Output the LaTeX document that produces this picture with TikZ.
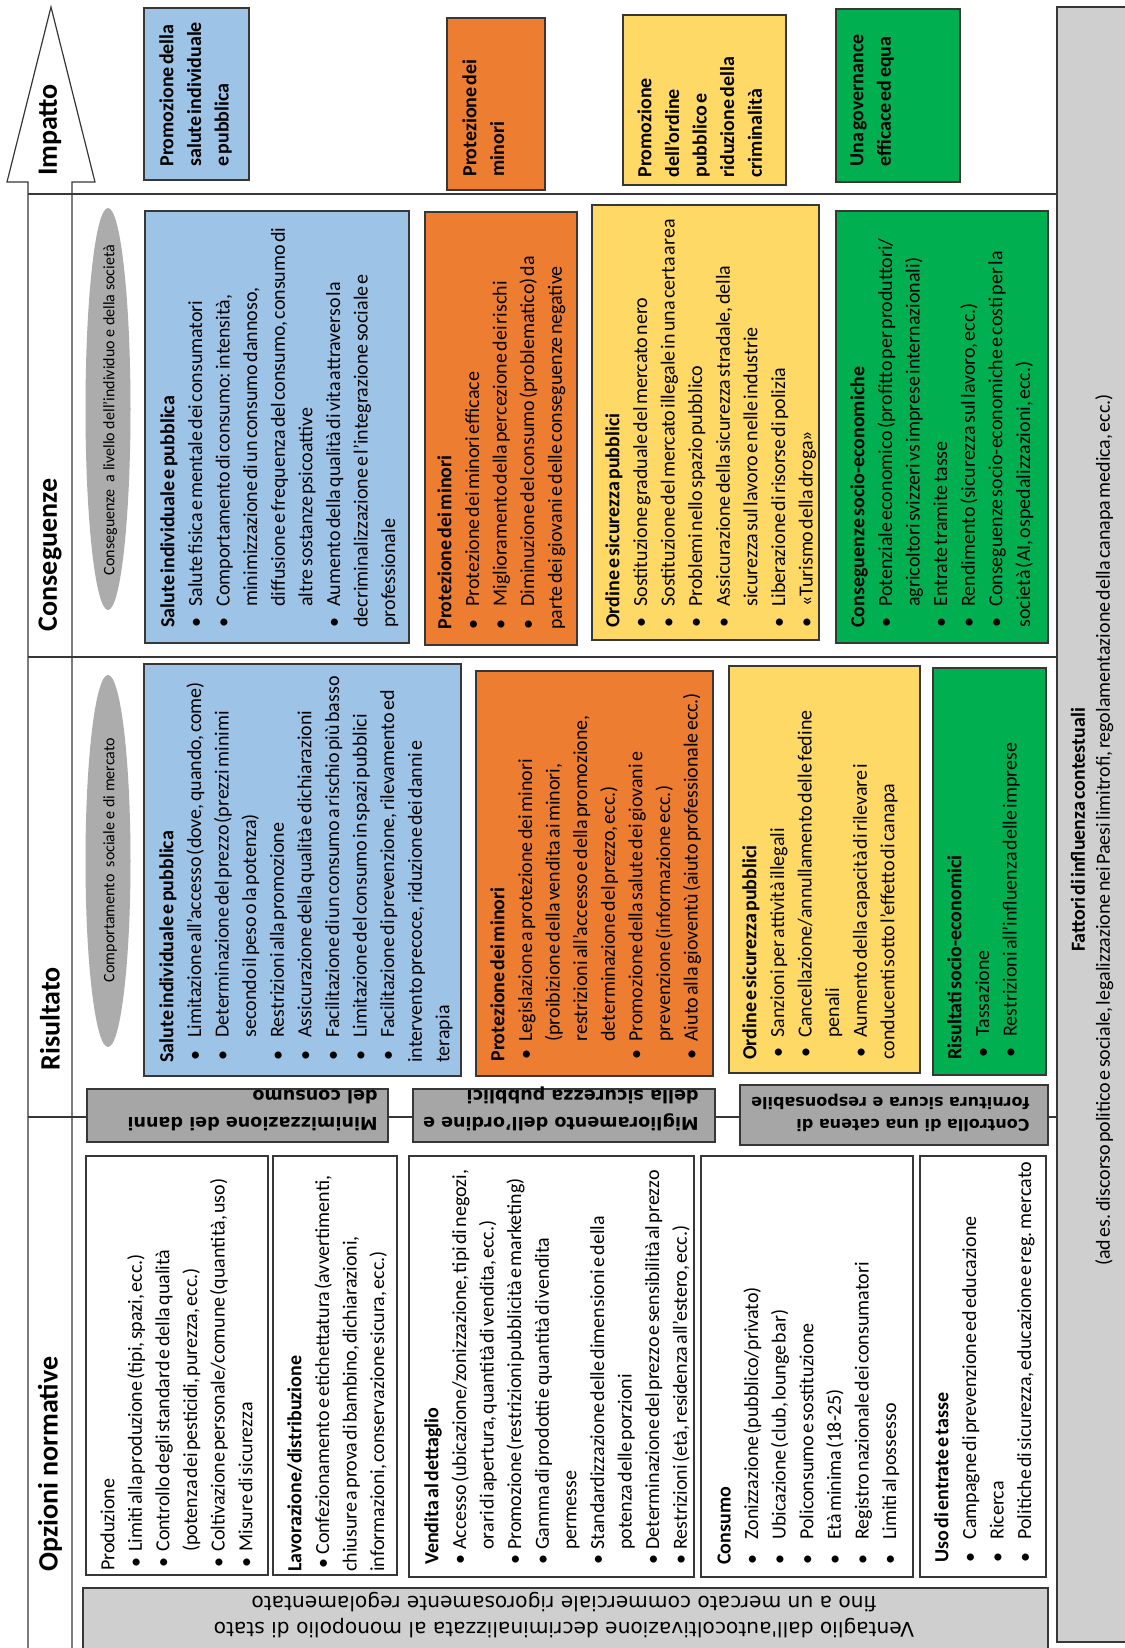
\documentclass[tikz,border=0pt]{standalone}
\usepackage{fontspec}
\setmainfont{Carlito}
\newfontfamily\dvs{DejaVu Sans}
\usetikzlibrary{shapes.geometric}
\definecolor{bluef}{RGB}{157,195,230}
\definecolor{orangef}{RGB}{237,125,49}
\definecolor{yellowf}{RGB}{255,217,102}
\definecolor{greenf}{RGB}{0,176,80}
\definecolor{dgrey}{RGB}{166,166,166}
\definecolor{lgrey}{RGB}{208,207,207}
\definecolor{ellg}{RGB}{172,172,172}
\definecolor{lc}{RGB}{55,55,55}
\newlength\bind \newlength\tind
\newcommand\tight{\spaceskip=1.15pt plus 0.3pt minus 0.1pt\xspaceskip=1.5pt}
\newcommand\setind[2]{\tight\setlength\bind{#1}\setlength\tind{#2}}
\newcommand\hd[1]{\noindent\textbf{#1}}
\newcommand\bi[1]{\par\hangindent=\tind\hangafter=1\noindent\hbox to\tind{\hspace*{\bind}\textbullet\hfil}#1}
\begin{document}
\begin{tikzpicture}[x=0.5pt,y=-0.5pt,
  frame/.style={draw=lc, line width=0.8pt},
  sep/.style={draw=lc, line width=0.6pt},
  txt/.style={rotate=90, anchor=north west, inner sep=0pt, align=left, text width=260pt, font=\fontsize{10}{13.8}\selectfont},
  btxt/.style={txt, font=\bfseries\fontsize{10}{13.8}\selectfont},
  hdr/.style={rotate=90, inner sep=0pt, font=\bfseries\fontsize{14}{16}\selectfont},
  gtxt/.style={rotate=180, anchor=north west, inner sep=0pt, align=left, font=\dvs\bfseries\fontsize{8.8}{13.3}\selectfont},
  etxt/.style={rotate=90, inner sep=0pt, font=\fontsize{8}{10}\selectfont},
  ell/.style={ellipse, fill=ellg, inner sep=0pt, minimum width=22.5pt}
]
\useasboundingbox (0,0) rectangle (1124,1648);
\fill[white] (0,0) rectangle (1124,1648);
% arrow band
\coordinate (a1) at (28,1660); \coordinate (a2) at (28,182); \coordinate (a3) at (7,182);
\coordinate (a4) at (51,7); \coordinate (a5) at (95,182); \coordinate (a6) at (72,182); \coordinate (a7) at (72,1660);
\draw[sep, fill=white] (a1) -- (a2) -- (a3) -- (a4) -- (a5) -- (a6) -- (a7);
% separators
\coordinate (s1a) at (28,194); \coordinate (s1b) at (1057,194);
\coordinate (s2a) at (28,657); \coordinate (s2b) at (1057,657);
\coordinate (s3a) at (28,1117); \coordinate (s3b) at (1057,1117);
\draw[sep] (s1a) -- (s1b);
\draw[sep] (s2a) -- (s2b);
\draw[sep] (s3a) -- (s3b);
% right grey column
\path[frame, fill=lgrey] (1057,7) rectangle (1130,1642);
\node[rotate=90, align=center, inner sep=0pt, font=\fontsize{10}{12.5}\selectfont] (fx) at (1092,830)
 {\tight\textbf{Fattori di influenza contestuali}\\\tight(ad es. discorso politico e sociale, legalizzazione nei Paesi limitrofi, regolamentazione della canapa medica, ecc.)};
% bottom grey box
\path[frame, fill=lgrey] (83,1588) rectangle (1048,1652);
\node[rotate=180, align=center, inner sep=0pt, font=\dvs\fontsize{10.1}{13}\selectfont] (vt) at (564,1615)
 {Ventaglio dall'autocoltivazione decriminalizzata al monopolio di stato\\fino a un mercato commerciale rigorosamente regolamentato};
% headers
\node[hdr] (h1) at (50,130) {Impatto};
\node[hdr] (h2) at (50,555) {Conseguenze};
\node[hdr] (h3) at (50,1019) {Risultato};
\node[hdr] (h4) at (50,1464) {Opzioni normative};
% ellipses
\node[ell, minimum height=201pt] (e1) at (108,409) {};
\node[etxt] (e1t) at (110,410) {Conseguenze ~a livello dell’individuo e della società};
\node[ell, minimum height=186pt] (e2) at (108,861) {};
\node[etxt] (e2t) at (110,860) {Comportamento ~sociale e di mercato};
% ---- Impatto row
\path[frame, fill=bluef] (144,8) rectangle (249,180);
\node[btxt] (i1) at (159,167) {\tight Promozione della\\salute individuale\\e pubblica};
\path[frame, fill=orangef] (447,18) rectangle (545,190);
\node[btxt] (i2) at (462,177) {\tight Protezione dei\\minori};
\path[frame, fill=yellowf] (623,15) rectangle (786,185);
\node[btxt] (i3) at (637,178) {\tight Promozione\\dell’ordine\\pubblico e\\riduzione della\\criminalità};
\path[frame, fill=greenf] (836,9) rectangle (960,182);
\node[btxt] (i4) at (850,167) {\tight Una governance\\efficace ed equa};
% ---- Conseguenze row
\path[frame, fill=bluef] (145,211) rectangle (409,643);
\node[txt] (c1) at (160,628) {\setind{0pt}{10.5pt}\hd{Salute individuale e pubblica}
\bi{Salute fisica e mentale dei consumatori}
\bi{Comportamento di consumo: intensità,\newline minimizzazione di un consumo dannoso,\newline diffusione e frequenza del consumo, consumo di\newline altre sostanze psicoattive}
\bi{Aumento della qualità di vita attraverso la\newline decriminalizzazione e l’integrazione sociale e\newline professionale}};
\path[frame, fill=orangef] (425,212) rectangle (577,645);
\node[txt] (c2) at (437,630) {\setind{0pt}{11.5pt}\hd{Protezione dei minori}
\bi{Protezione dei minori efficace}
\bi{Miglioramento della percezione dei rischi}
\bi{Diminuzione del consumo (problematico) da\newline parte dei giovani e delle conseguenze negative}};
\path[frame, fill=yellowf] (592,205) rectangle (819,640);
\node[txt] (c3) at (605,628) {\setind{0pt}{10.5pt}\hd{Ordine e sicurezza pubblici}
\bi{Sostituzione graduale del mercato nero}
\bi{Sostituzione del mercato illegale in una certa area}
\bi{Problemi nello spazio pubblico}
\bi{Assicurazione della sicurezza stradale, della\newline sicurezza sul lavoro e nelle industrie}
\bi{Liberazione di risorse di polizia}
\bi{«Turismo della droga»}};
\path[frame, fill=greenf] (836,211) rectangle (1048,643);
\node[txt] (c4) at (850,628) {\setind{0pt}{10.5pt}\hd{Conseguenze socio-economiche}
\bi{Potenziale economico (profitto per produttori/\newline agricoltori svizzeri vs imprese internazionali)}
\bi{Entrate tramite tasse}
\bi{Rendimento (sicurezza sul lavoro, ecc.)}
\bi{Conseguenze socio-economiche e costi per la\newline società (AI, ospedalizzazioni, ecc.)}};
% ---- Risultato row
\path[frame, fill=bluef] (144,664) rectangle (461,1076);
\node[txt] (r1) at (159,1063) {\setind{1pt}{12.5pt}\hd{Salute individuale e pubblica}
\bi{Limitazione all’accesso (dove, quando, come)}
\bi{Determinazione del prezzo (prezzi minimi\newline secondo il peso o la potenza)}
\bi{Restrizioni alla promozione}
\bi{Assicurazione della qualità e dichiarazioni}
\bi{Facilitazione di un consumo a rischio più basso}
\bi{Limitazione del consumo in spazi pubblici}
\bi{Facilitazione di prevenzione, rilevamento ed\newline intervento precoce, riduzione dei danni e\newline terapia}};
\path[frame, fill=orangef] (476,671) rectangle (713,1076);
\node[txt] (r2) at (490,1062) {\setind{1pt}{10pt}\hd{Protezione dei minori}
\bi{Legislazione a protezione dei minori\newline (proibizione della vendita ai minori,\newline restrizioni all’accesso e della promozione,\newline determinazione del prezzo, ecc.)}
\bi{Promozione della salute dei giovani e\newline prevenzione (informazione ecc.)}
\bi{Aiuto alla gioventù (aiuto professionale ecc.)}};
\path[frame, fill=yellowf] (729,666) rectangle (920,1073);
\node[txt] (r3) at (742,1060) {\setind{1pt}{11pt}\hd{Ordine e sicurezza pubblici}
\bi{Sanzioni per attività illegali}
\bi{Cancellazione/annullamento delle fedine\newline penali}
\bi{Aumento della capacità di rilevare i\newline conducenti sotto l’effetto di canapa}};
\path[frame, fill=greenf] (933,668) rectangle (1046,1075);
\node[txt] (r4) at (947,1060) {\setind{1pt}{11.5pt}\hd{Risultati socio-economici}
\bi{Tassazione}
\bi{Restrizioni all’influenza delle imprese}};
% ---- grey goal boxes
\path[frame, fill=dgrey] (87,1089) rectangle (388,1142);
\node[gtxt] (g1) at (378,1131) {Minimizzazione dei danni\\del consumo};
\path[frame, fill=dgrey] (413,1089) rectangle (715,1142);
\node[gtxt] (g2) at (699,1131) {Miglioramento dell’ordine e\\della sicurezza pubblici};
\path[frame, fill=dgrey] (740,1085) rectangle (1048,1145);
\node[gtxt, font=\dvs\bfseries\fontsize{8}{11}\selectfont] (g3) at (1030,1132) {Controlla di una catena di\\fornitura sicura e responsabile};
% ---- Opzioni row
\path[frame, fill=white] (86,1156) rectangle (268,1575);
\node[txt] (o1) at (100,1571) {\setind{1.5pt}{9.5pt}Produzione
\bi{Limiti alla produzione (tipi, spazi, ecc.)}
\bi{Controllo degli standard e della qualità\newline (potenza dei pesticidi, purezza, ecc.)}
\bi{Coltivazione personale/comune (quantità, uso)}
\bi{Misure di sicurezza}};
\path[frame, fill=white] (273,1156) rectangle (397,1575);
\node[txt] (o2) at (287,1572) {\setind{1.5pt}{8.5pt}\hd{Lavorazione/distribuzione}
\bi{Confezionamento e etichettatura (avvertimenti,\newline chiusure a prova di bambino, dichiarazioni,\newline informazioni, conservazione sicura, ecc.)}};
\path[frame, fill=white] (409,1156) rectangle (694,1577);
\node[txt] (o3) at (424,1565) {\setind{0pt}{7.5pt}\hd{Vendita al dettaglio}
\bi{Accesso (ubicazione/zonizzazione, tipi di negozi,\newline orari di apertura, quantità di vendita, ecc.)}
\bi{Promozione (restrizioni pubblicità e marketing)}
\bi{Gamma di prodotti e quantità di vendita\newline permesse}
\bi{Standardizzazione delle dimensioni e della\newline potenza delle porzioni}
\bi{Determinazione del prezzo e sensibilità al prezzo}
\bi{Restrizioni (età, residenza all’estero, ecc.)}};
\path[frame, fill=white] (701,1156) rectangle (913,1577);
\node[txt] (o4) at (717,1565) {\setind{0pt}{12.5pt}\hd{Consumo}
\bi{Zonizzazione (pubblico/privato)}
\bi{Ubicazione (club, lounge bar)}
\bi{Policonsumo e sostituzione}
\bi{Età minima (18-25)}
\bi{Registro nazionale dei consumatori}
\bi{Limiti al possesso}};
\path[frame, fill=white] (920,1156) rectangle (1046,1577);
\node[txt] (o5) at (934,1563) {\setind{0pt}{11.5pt}\hd{Uso di entrate e tasse}
\bi{Campagne di prevenzione ed educazione}
\bi{Ricerca}
\bi{Politiche di sicurezza, educazione e reg. mercato}};
\end{tikzpicture}
\end{document}
